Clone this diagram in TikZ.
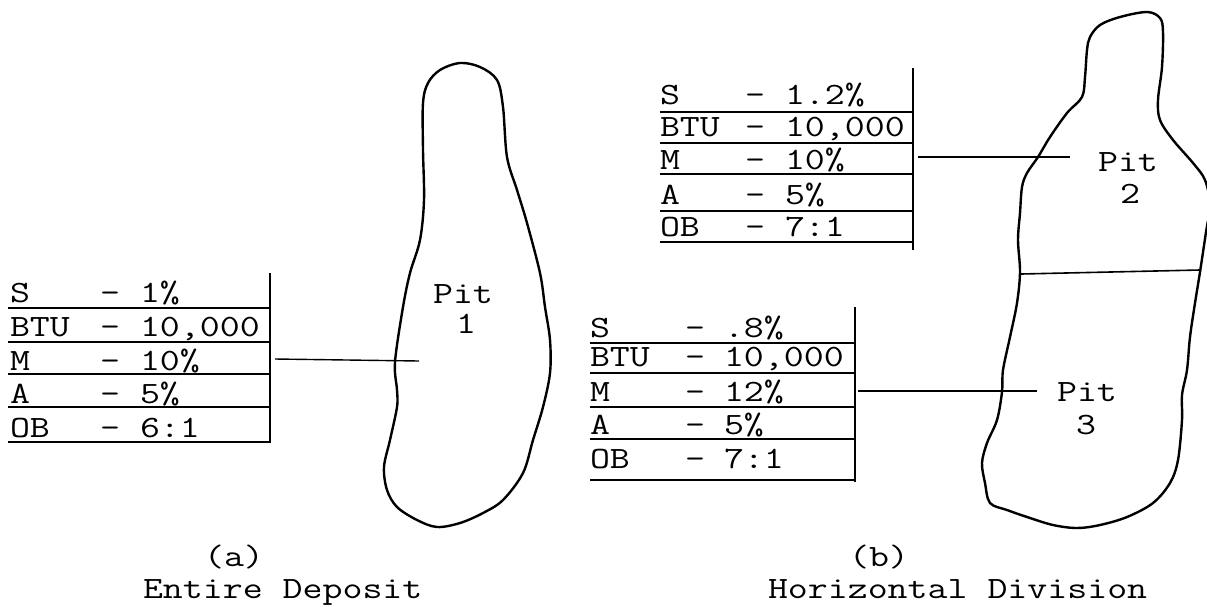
\documentclass[tikz,border=0pt]{standalone}
\usepackage{graphicx}
\newcommand\tw[1]{\scalebox{1.25}[1]{\fontsize{31}{33}\selectfont\ttfamily #1}}
\begin{document}
\begin{tikzpicture}[x=1pt,y=-1pt,
  kw/.style={anchor=base west,inner sep=0pt,outer sep=0pt},
  dsh/.style={anchor=base,inner sep=0pt,outer sep=0pt},
  lbl/.style={anchor=base,inner sep=0pt,outer sep=0pt},
  rule/.style={line width=1.5pt},
  vrule/.style={line width=1.8pt},
  conn/.style={line width=1.4pt},
  outline/.style={line width=2.4pt,line join=round}]
\useasboundingbox (0,0) rectangle (1207,606);

% ---------- (a) table ----------
\node[kw] (a1k) at (10,302) {\tw{S}};
\node[dsh] (a1d) at (110,302) {\tw{-}};
\node[kw] (a1v) at (140,302) {\tw{1\%}};
\node[kw] (a2k) at (10,336) {\tw{BTU}};
\node[dsh] (a2d) at (110,336) {\tw{-}};
\node[kw] (a2v) at (140,336) {\tw{10,000}};
\node[kw] (a3k) at (10,370) {\tw{M}};
\node[dsh] (a3d) at (110,370) {\tw{-}};
\node[kw] (a3v) at (140,370) {\tw{10\%}};
\node[kw] (a4k) at (10,403) {\tw{A}};
\node[dsh] (a4d) at (110,403) {\tw{-}};
\node[kw] (a4v) at (140,403) {\tw{5\%}};
\node[kw] (a5k) at (10,437) {\tw{OB}};
\node[dsh] (a5d) at (110,437) {\tw{-}};
\node[kw] (a5v) at (140,437) {\tw{6:1}};
\foreach \y in {308,342,374,407,442} \draw[rule] (8,\y) -- (270,\y);
\coordinate (aT) at (270,273); \coordinate (aB) at (270,443);
\draw[vrule] (aT) -- (aB);

% ---------- (b) upper table ----------
\node[kw] (b1k) at (660,104) {\tw{S}};
\node[dsh] (b1d) at (755,104) {\tw{-}};
\node[kw] (b1v) at (785,104) {\tw{1.2\%}};
\node[kw] (b2k) at (660,136) {\tw{BTU}};
\node[dsh] (b2d) at (755,136) {\tw{-}};
\node[kw] (b2v) at (785,136) {\tw{10,000}};
\node[kw] (b3k) at (660,169) {\tw{M}};
\node[dsh] (b3d) at (755,169) {\tw{-}};
\node[kw] (b3v) at (785,169) {\tw{10\%}};
\node[kw] (b4k) at (660,204) {\tw{A}};
\node[dsh] (b4d) at (755,204) {\tw{-}};
\node[kw] (b4v) at (785,204) {\tw{5\%}};
\node[kw] (b5k) at (660,236) {\tw{OB}};
\node[dsh] (b5d) at (755,236) {\tw{-}};
\node[kw] (b5v) at (785,236) {\tw{7:1}};
\foreach \y in {112,143,174,211,242} \draw[rule] (660,\y) -- (913,\y);
\coordinate (bT) at (913,68); \coordinate (bB) at (913,250);
\draw[vrule] (bT) -- (bB);

% ---------- (b) lower table ----------
\node[kw] (c1k) at (590,337) {\tw{S}};
\node[dsh] (c1d) at (695,337) {\tw{-}};
\node[kw] (c1v) at (724,337) {\tw{.8\%}};
\node[kw] (c2k) at (590,366) {\tw{BTU}};
\node[dsh] (c2d) at (695,366) {\tw{-}};
\node[kw] (c2v) at (724,366) {\tw{10,000}};
\node[kw] (c3k) at (590,401) {\tw{M}};
\node[dsh] (c3d) at (695,401) {\tw{-}};
\node[kw] (c3v) at (724,401) {\tw{12\%}};
\node[kw] (c4k) at (590,434) {\tw{A}};
\node[dsh] (c4d) at (695,434) {\tw{-}};
\node[kw] (c4v) at (724,434) {\tw{5\%}};
\node[kw] (c5k) at (590,468) {\tw{OB}};
\node[dsh] (c5d) at (695,468) {\tw{-}};
\node[kw] (c5v) at (724,468) {\tw{7:1}};
\foreach \y in {343,373,407,439,480} \draw[rule] (590,\y) -- (855,\y);
\coordinate (cT) at (855,307); \coordinate (cB) at (855,482);
\draw[vrule] (cT) -- (cB);

% ---------- Pit 1 outline ----------
\draw[outline] plot[smooth cycle,tension=0.55] coordinates {
 (460,63) (480,67) (497,80) (503,107) (507,157) (517,190) (527,223)
 (540,273) (545,307) (550,340) (550,373) (543,407) (533,440) (523,473)
 (503,500) (483,513) (460,523) (437,527) (417,520) (397,507) (387,490)
 (384,467) (390,440) (397,407) (397,390) (395,362) (403,307) (410,273)
 (420,240) (424,200) (423,150) (423,103) (428,83) (440,70)};

% ---------- Pit 2/3 outline ----------
\draw[outline] plot[smooth cycle,tension=0.55] coordinates {
 (1147,12) (1160,18) (1163,32) (1162,67) (1158,100) (1160,120) (1173,140)
 (1193,163) (1205,180) (1210,205) (1206,232) (1200,272) (1195,303)
 (1190,337) (1187,370) (1182,395) (1182,420) (1178,460) (1170,483)
 (1153,503) (1127,517) (1100,525) (1077,528) (1053,525) (1027,517)
 (1007,510) (990,503) (985,483) (982,463) (987,443) (997,420) (1002,392)
 (1003,370) (1010,337) (1017,303) (1020,272) (1018,240) (1020,213)
 (1022,187) (1027,173) (1038,157) (1050,137) (1067,113) (1082,97)
 (1085,77) (1087,50) (1090,37) (1100,25) (1120,17)};
\coordinate (dL) at (1021,274); \coordinate (dR) at (1200,270);
\draw[line width=1.6pt] (dL) -- (dR);

% ---------- Pit labels ----------
\node[lbl] (p1a) at (463,303) {\tw{Pit}};
\node[lbl] (p1b) at (466,333) {\tw{1}};
\node[lbl] (p2a) at (1128,171) {\tw{Pit}};
\node[lbl] (p2b) at (1130,203) {\tw{2}};
\node[lbl] (p3a) at (1087,401) {\tw{Pit}};
\node[lbl] (p3b) at (1086,434) {\tw{3}};

% ---------- connectors ----------
\coordinate (aC) at (275,359); \coordinate (aE) at (419,361);
\draw[conn] (aC) -- (aE);
\coordinate (bC) at (918,157); \coordinate (bE) at (1070,157);
\draw[conn] (bC) -- (bE);
\coordinate (cC) at (858,391); \coordinate (cE) at (1037,391);
\draw[conn] (cC) -- (cE);

% ---------- captions ----------
\node[lbl] (capa) at (234,566) {\tw{(a)}};
\node[kw] (capA) at (143,598) {\tw{Entire Deposit}};
\node[lbl] (capb) at (879,566) {\tw{(b)}};
\node[kw] (capB) at (768,598) {\tw{Horizontal Division}};
\end{tikzpicture}
\end{document}
